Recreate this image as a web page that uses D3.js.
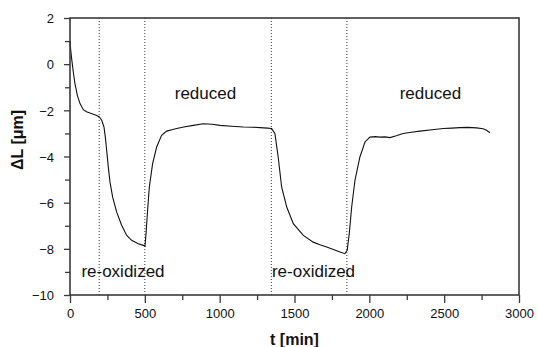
<!DOCTYPE html>
<html><head><meta charset="utf-8">
<script src="https://cdn.jsdelivr.net/npm/d3@7"></script>
<style>
html,body{margin:0;padding:0;background:#fff;}
text{font-family:"Liberation Sans",Arial,Helvetica,sans-serif;fill:#111;}
</style></head>
<body><svg id="c" width="538" height="347"></svg>
<script>
// time [min]
const times = [0,5,11,22,33,49,67,89,110,134,156,178,196,212,227,236,245,256,267,285,312,345,379,412,456,490,501,508,517,530,552,579,612,646,680,713,760,824,890,950,1002,1080,1158,1220,1269,1320,1347,1369,1391,1414,1448,1492,1559,1625,1670,1715,1760,1804,1837,1852,1866,1882,1904,1937,1971,2004,2040,2071,2105,2138,2180,2226,2280,2338,2420,2494,2550,2605,2660,2716,2760,2783,2806];
// ΔL [µm]
const values = [1.0,0.6,0.24,-0.34,-0.84,-1.35,-1.71,-1.97,-2.06,-2.12,-2.17,-2.22,-2.29,-2.43,-2.72,-3.16,-3.73,-4.46,-5.10,-5.76,-6.41,-6.98,-7.42,-7.63,-7.78,-7.85,-7.89,-7.34,-6.47,-5.32,-4.31,-3.59,-3.08,-2.90,-2.84,-2.79,-2.72,-2.65,-2.58,-2.60,-2.65,-2.69,-2.72,-2.73,-2.75,-2.77,-2.79,-3.0,-4.02,-5.32,-6.19,-6.91,-7.42,-7.71,-7.82,-7.92,-8.03,-8.14,-8.21,-8.06,-7.34,-6.19,-5.03,-4.02,-3.37,-3.16,-3.14,-3.16,-3.15,-3.18,-3.10,-3.00,-2.95,-2.90,-2.84,-2.79,-2.77,-2.75,-2.74,-2.76,-2.80,-2.86,-2.97];
const switchTimes = [195,500,1345,1850];
const xTicks = [0,500,1000,1500,2000,2500,3000];
const xMinor = [250,750,1250,1750,2250,2750];
const yTicks = [2,0,-2,-4,-6,-8,-10];
const yMinor = [1,-1,-3,-5,-7,-9];
const labels = [
  {text:"reduced", t:905, v:-1.52},
  {text:"reduced", t:2408, v:-1.52},
  {text:"re-oxidized", t:354, v:-9.23},
  {text:"re-oxidized", t:1627, v:-9.23}
];

const W=538,H=347,m={l:70,r:19,t:18,b:52};
const svg=d3.select("#c");
const x=d3.scaleLinear().domain([0,3000]).range([m.l,W-m.r]);
const y=d3.scaleLinear().domain([-10,2]).range([H-m.b,m.t]);
const axCol="#3a3a3a";

// dotted lines
svg.selectAll("line.sw").data(switchTimes).join("line")
  .attr("x1",d=>x(d)).attr("x2",d=>x(d)).attr("y1",y(2)).attr("y2",y(-10))
  .attr("stroke","#333").attr("stroke-width",1).attr("stroke-dasharray","1,2");

// curve
svg.append("path").datum(times.map((t,i)=>[t,values[i]]))
  .attr("d",d3.line().x(d=>x(d[0])).y(d=>y(d[1])))
  .attr("fill","none").attr("stroke","#111").attr("stroke-width",1.1);

// frame
svg.append("rect").attr("x",x(0)).attr("y",y(2)).attr("width",x(3000)-x(0)).attr("height",y(-10)-y(2))
  .attr("fill","none").attr("stroke",axCol).attr("stroke-width",1.6);

// x axis
svg.append("g").attr("transform",`translate(0,${y(-10)})`)
  .call(d3.axisBottom(x).tickValues(xTicks).tickSize(8).tickPadding(6).tickFormat(d3.format("d")));
svg.append("g").attr("transform",`translate(0,${y(-10)})`)
  .call(d3.axisBottom(x).tickValues(xMinor).tickSize(5).tickFormat(""));
// y axis
const ya=svg.append("g").attr("transform",`translate(${x(0)},0)`)
  .call(d3.axisLeft(y).tickValues(yTicks).tickSize(6).tickPadding(10).tickFormat(d3.format("d")));
svg.append("g").attr("transform",`translate(${x(0)},0)`)
  .call(d3.axisLeft(y).tickValues(yMinor).tickSize(5).tickFormat(""));
svg.selectAll(".domain").remove();
svg.selectAll(".tick line").attr("stroke",axCol).attr("stroke-width",1.3);
svg.selectAll(".tick text").attr("font-size",13).attr("font-family","Liberation Sans, Arial, sans-serif").attr("fill","#111");
ya.selectAll(".tick text").attr("dy","0.36em");

// axis titles
svg.append("text").attr("x",(x(0)+x(3000))/2).attr("y",345).attr("text-anchor","middle")
  .attr("font-size",16).attr("font-weight","bold").text("t [min]");
svg.append("text").attr("transform",`translate(23,140) rotate(-90)`).attr("text-anchor","middle")
  .attr("font-size",16).attr("font-weight","bold").text("ΔL [μm]");

// annotations
svg.selectAll("text.lab").data(labels).join("text").attr("class","lab")
  .attr("x",d=>x(d.t)).attr("y",d=>y(d.v)).attr("text-anchor","middle")
  .attr("font-size",17).text(d=>d.text);
</script></body></html>
